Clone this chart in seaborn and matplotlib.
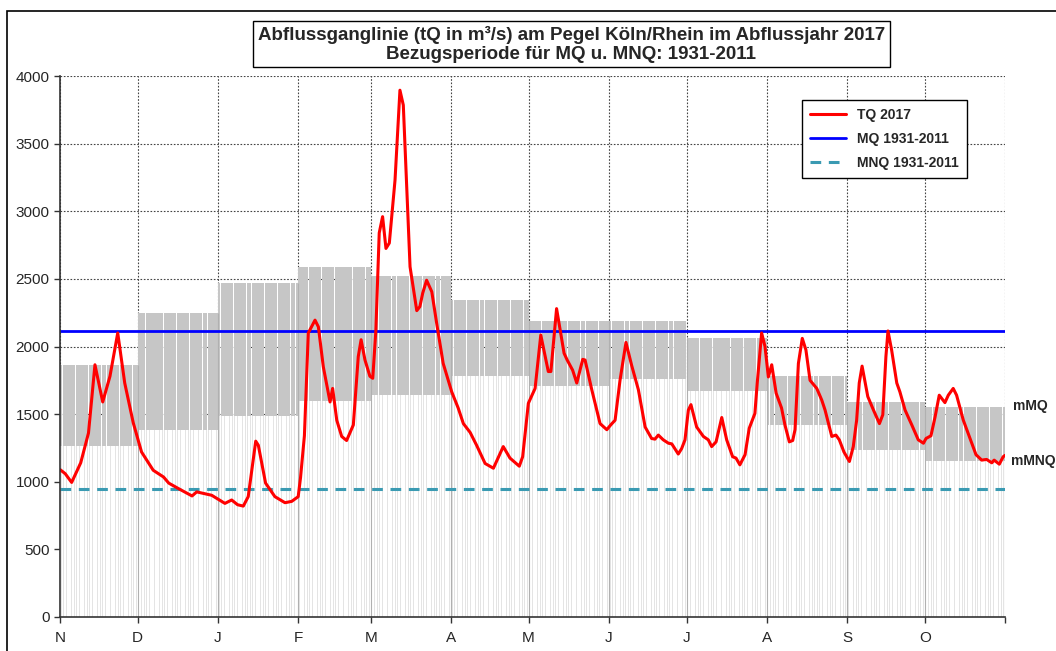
import numpy as np
import pandas as pd
import matplotlib
matplotlib.use("Agg")
import matplotlib.pyplot as plt
from matplotlib.patches import Rectangle
import seaborn as sns

# Monate des Abflussjahres (Nov - Okt)
monate = ['N', 'D', 'J', 'F', 'M', 'A', 'M', 'J', 'J', 'A', 'S', 'O']
tage_pro_monat = [30, 31, 31, 28, 31, 30, 31, 30, 31, 31, 30, 31]

# Monatswerte 1931-2011 (m³/s)
mmq = [1860, 2250, 2470, 2590, 2520, 2345, 2190, 2190, 2065, 1780, 1590, 1555]
mmnq = [1265, 1385, 1485, 1595, 1640, 1780, 1705, 1760, 1670, 1420, 1235, 1155]
MQ = 2112
MNQ = 945

# Tagesabfluss 2017
tq_tag = [0, 2, 4.5, 8, 11, 13.5, 16.5, 19.3, 22.3, 25, 28.3, 31.5, 36, 40, 42,
          45.7, 51, 52.8, 58.6, 63.7, 66.3, 68.6, 70.8, 72.7, 75.6, 76.6, 79.4,
          83, 86.9, 89.5, 92, 92.9, 94.4, 95.9, 98.5, 99.8, 101.7, 104.3, 105.3,
          106.9, 108.8, 110.7, 113.3, 115.2, 116.3, 117.8, 119.7, 120.8, 122,
          123.3, 124.6, 125.9, 127.2, 129.4, 131.3, 132.6, 135.2, 137.8, 139,
          140.1, 141.6, 143.6, 145.5, 148, 151.3, 153.8, 155.8, 158.4, 160.9,
          164.2, 167.4, 171.2, 173.8, 177.4, 178.7, 180.9, 183.5, 185.7, 188.6,
          189.6, 191.8, 194.7, 195.9, 198, 199.6, 201.9, 202.8, 205.4, 208.6,
          211.2, 212.7, 214.4, 216.3, 218.6, 220.8, 223.4, 226, 228.5, 229.8,
          231.1, 233, 235, 236.3, 238.8, 240.1, 241.4, 242.7, 243.7, 245.9,
          248.5, 250.4, 251.7, 253.4, 255.6, 257.5, 259.8, 261.1, 262.6, 264.6,
          266.2, 268.4, 269.3, 271, 272.3, 273.6, 274.9, 276.6, 278.7, 280,
          281.7, 283, 283.9, 285.2, 286.7, 288.1, 289.7, 292.3, 294.2, 295.5,
          298.1, 299.7, 301, 302.8, 304.9, 306.4, 307.7, 308.7, 309.8, 312,
          314.2, 316.5, 317.8, 319, 319.8, 321.2, 323.2, 324.4, 326.4, 329,
          331.5, 333.5, 334.5, 336.4, 338, 339.6, 341.8, 343.1, 345, 346.3,
          348.9, 351.5, 353.8, 356, 357.9, 359.9, 360.8, 362.8, 364.3, 365]
tq_wert = [1090, 1060, 995, 1140, 1360, 1865, 1590, 1780, 2100, 1730, 1435, 1220,
           1085, 1035, 990, 950, 895, 925, 900, 840, 865, 830, 820, 890, 1300,
           1270, 990, 890, 845, 855, 890, 1030, 1340, 2100, 2195, 2145, 1850,
           1590, 1690, 1455, 1335, 1305, 1420, 1925, 2050, 1900, 1780, 1765,
           2120, 2840, 2960, 2725, 2765, 3230, 3895, 3785, 2590, 2265, 2295,
           2395, 2490, 2405, 2170, 1875, 1665, 1545, 1430, 1365, 1270, 1135,
           1100, 1260, 1175, 1115, 1185, 1580, 1690, 2085, 1815, 1815, 2280,
           1950, 1900, 1825, 1730, 1905, 1900, 1680, 1430, 1385, 1420, 1455,
           1750, 2030, 1860, 1680, 1405, 1320, 1315, 1345, 1310, 1285, 1280,
           1205, 1245, 1310, 1530, 1570, 1405, 1335, 1310, 1260, 1295, 1475,
           1310, 1185, 1175, 1125, 1200, 1395, 1505, 1730, 2100, 2000, 1775,
           1865, 1655, 1545, 1420, 1295, 1305, 1385, 1875, 2060, 1975, 1750,
           1690, 1605, 1530, 1335, 1345, 1310, 1220, 1150, 1260, 1455, 1730,
           1855, 1630, 1530, 1430, 1495, 1925, 2115, 1975, 1730, 1665, 1530,
           1420, 1310, 1285, 1320, 1340, 1480, 1640, 1585, 1640, 1690, 1640,
           1455, 1320, 1200, 1160, 1165, 1140, 1160, 1130, 1185, 1195]

monatsanfang = np.concatenate([[0], np.cumsum(tage_pro_monat)])
n_tage = int(monatsanfang[-1])

df_band = pd.DataFrame({
    'tag': np.arange(n_tage) + 0.5,
    'mmq': np.repeat(mmq, tage_pro_monat),
    'mmnq': np.repeat(mmnq, tage_pro_monat),
})
df_tq = pd.DataFrame({'tag': tq_tag, 'tq': tq_wert})

sns.set_style("white")
plt.rcParams['font.family'] = ['Liberation Sans', 'DejaVu Sans']

fig = plt.figure(figsize=(10.56, 6.51), dpi=100)
ax = fig.add_axes([60 / 1056, 1 - 617 / 651, 945 / 1056, 541 / 651])

# Band mMNQ - mMQ als Tagesbalken
sns.barplot(data=df_band, x='tag', y='mmq', native_scale=True, color='#c6c6c6',
            saturation=1, width=0.92, linewidth=0, errorbar=None, ax=ax, zorder=2)
# unterhalb mMNQ: weiss mit feinen hellgrauen Tagesstrichen
sns.barplot(data=df_band, x='tag', y='mmnq', native_scale=True, color='white',
            saturation=1, width=1.0, linewidth=0, errorbar=None, ax=ax, zorder=2.1)
sns.barplot(data=df_band, x='tag', y='mmnq', native_scale=True, color='#e4e4e4',
            saturation=1, width=0.3, linewidth=0, errorbar=None, ax=ax, zorder=2.2)

sns.lineplot(data=df_tq, x='tag', y='tq', color='#ff0000', linewidth=2.2,
             label='TQ 2017', ax=ax, zorder=5)
sns.lineplot(x=[0, n_tage], y=[MQ, MQ], color='#0000ff', linewidth=2,
             label='MQ 1931-2011', ax=ax, zorder=4)
sns.lineplot(x=[0, n_tage], y=[MNQ, MNQ], color='#3a9ab2', linewidth=2.2,
             linestyle=(0, (3.5, 2.5)), label='MNQ 1931-2011', ax=ax, zorder=4)

# Monatsgrenzen innerhalb der Balken hellgrau
grenze_oben = [min(a, b) for a, b in zip(mmq[:-1], mmq[1:])] + [mmq[-1]]
ax.vlines(monatsanfang[1:], 0, grenze_oben, color='#b0b0b0', linewidth=0.8,
          zorder=2.3)

ax.set_xlim(0, n_tage)
ax.set_ylim(0, 4000)
ax.set_yticks(range(0, 4001, 500))
ax.set_xticks(monatsanfang)
ax.set_xticklabels(monate + [''])
ax.set_xlabel('')
ax.set_ylabel('')
ax.tick_params(axis='both', labelsize=11, length=4, width=1, color='#333333',
               direction='out', bottom=True, left=True)
ax.tick_params(axis='x', pad=6)

ax.grid(True, color='#444444', linestyle=(0, (1.5, 1.5)), linewidth=0.8)
ax.set_axisbelow(True)
for s in ['top', 'right']:
    ax.spines[s].set_visible(False)
for s in ['left', 'bottom']:
    ax.spines[s].set_color('#333333')
    ax.spines[s].set_linewidth(1.2)
    ax.spines[s].set_zorder(6)

leg = ax.legend(loc='upper left', bbox_to_anchor=(0.785, 0.956), frameon=True,
                fancybox=False, edgecolor='black', framealpha=1,
                borderaxespad=0, prop={'weight': 'bold', 'size': 10},
                handlelength=2.6, borderpad=0.6, labelspacing=0.7)
leg.get_frame().set_linewidth(1)

ax.text(1.008, 1560, 'mMQ', transform=ax.get_yaxis_transform(), fontsize=10,
        fontweight='bold', va='center', ha='left', clip_on=False)
ax.text(1.006, 1150, 'mMNQ', transform=ax.get_yaxis_transform(), fontsize=10,
        fontweight='bold', va='center', ha='left', clip_on=False)

fig.text(0.541, 0.932,
         'Abflussganglinie (tQ in m³/s) am Pegel Köln/Rhein im Abflussjahr 2017\n'
         'Bezugsperiode für MQ u. MNQ: 1931-2011',
         ha='center', va='center', fontsize=13.5, fontweight='bold', linespacing=1.15,
         bbox=dict(boxstyle='square,pad=0.25', facecolor='white', edgecolor='black',
                   linewidth=1))

fig.patches.append(Rectangle((7 / 1056, -0.2), 1.2, 1.2 - 11 / 651,
                             transform=fig.transFigure, fill=False,
                             edgecolor='black', linewidth=1.2))

fig.savefig('out.png', dpi=100)
